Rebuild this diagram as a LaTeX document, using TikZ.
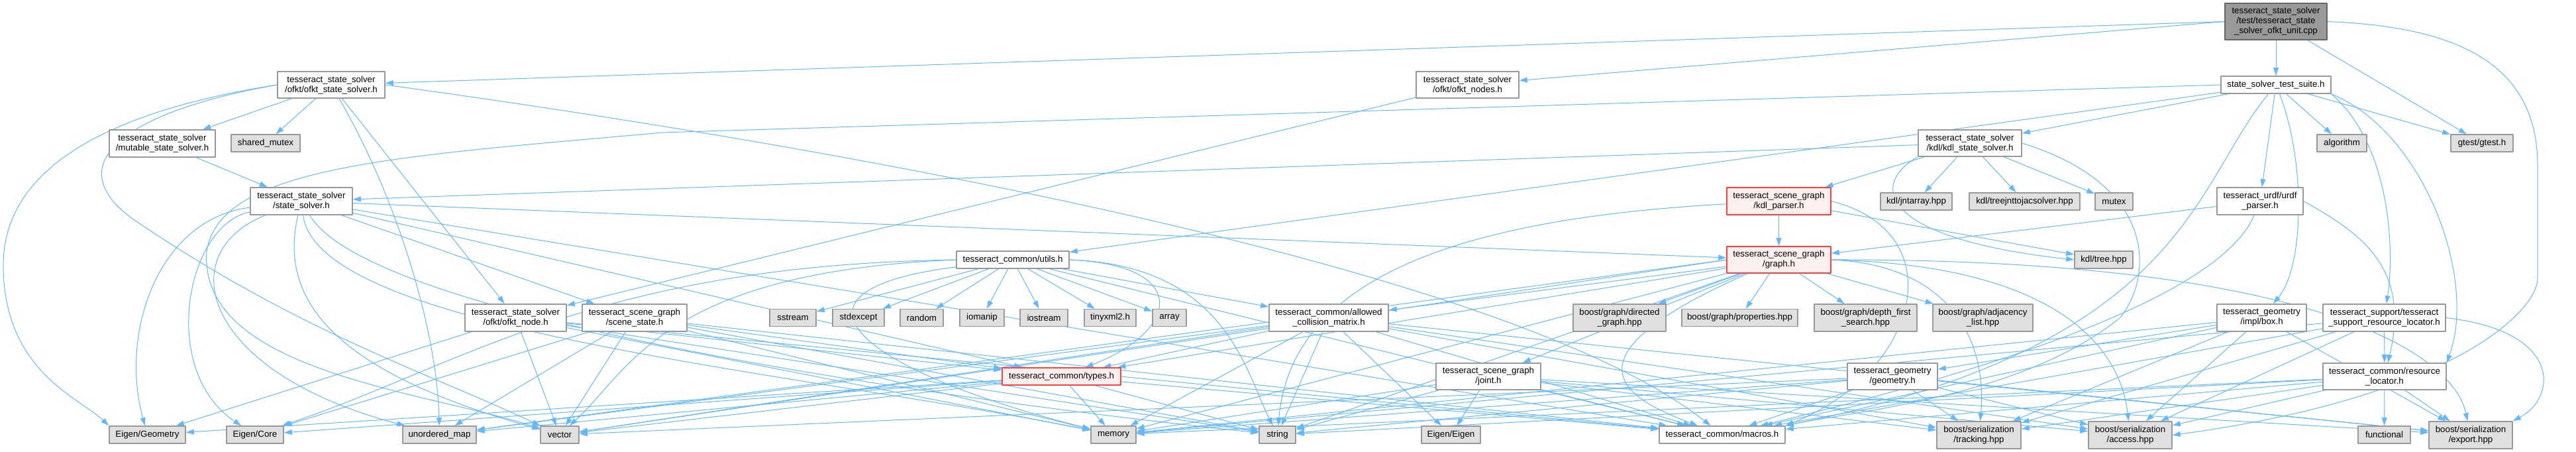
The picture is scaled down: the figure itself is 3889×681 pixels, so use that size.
\documentclass[tikz,border=0pt]{standalone}
\usepackage{fontspec}
\setmainfont{Liberation Sans}
\usetikzlibrary{arrows.meta,backgrounds,positioning}
\definecolor{dxedge}{HTML}{63B8FF}
\definecolor{dxline}{HTML}{999999}
\definecolor{dxsys}{HTML}{E0E0E0}
\definecolor{dxrootfill}{HTML}{999999}
\definecolor{dxrootline}{HTML}{666666}
\definecolor{dxredfill}{HTML}{FFF0F0}
\definecolor{dxredline}{HTML}{FF4040}
\tikzset{
  every picture/.append style={line cap=round,line join=round},
  dx file/.style={draw=dxline,fill=white,line width=1.6pt,align=center,inner sep=0pt,
    font=\fontsize{13.3}{15}\selectfont},
  dx sys/.style={dx file,fill=dxsys},
  dx root/.style={dx file,fill=dxrootfill,draw=dxrootline},
  dx trunc/.style={dx file,fill=dxredfill,draw=dxredline},
  dx edge/.style={dxedge,line width=1pt,-{Stealth[length=12pt,width=8pt,inset=0pt]}}
}
\begin{document}
\begin{tikzpicture}[x=1pt,y=-1pt]
\useasboundingbox (0,0) rectangle (3889,681);
% top ranks
\node[dx root,minimum width=154,minimum height=55] (root) at (3436,32.5) {tesseract\_state\_solver\\/test/tesseract\_state\\\_solver\_ofkt\_unit.cpp};
\node[dx file,minimum width=166,minimum height=26] (suite) at (3436,128) {state\_solver\_test\_suite.h};
\node[dx file,minimum width=162,minimum height=40] (ofktss) at (500,128) {tesseract\_state\_solver\\/ofkt/ofkt\_state\_solver.h};
\node[dx file,minimum width=155,minimum height=40] (ofktnodes) at (2215.5,128) {tesseract\_state\_solver\\/ofkt/ofkt\_nodes.h};
\node[dx file,minimum width=160,minimum height=41] (mutable) at (245,216.5) {tesseract\_state\_solver\\/mutable\_state\_solver.h};
\node[dx sys,minimum width=104,minimum height=26] (sharedmutex) at (401,216) {shared\_mutex};
\node[dx file,minimum width=156,minimum height=40] (kdlss) at (2974,216) {tesseract\_state\_solver\\/kdl/kdl\_state\_solver.h};
\node[dx sys,minimum width=75,minimum height=26] (algorithm) at (3535.5,216) {algorithm};
\node[dx sys,minimum width=94,minimum height=26] (gtest) at (3747,216) {gtest/gtest.h};
\node[dx file,minimum width=154,minimum height=41] (statesolver) at (455,303.5) {tesseract\_state\_solver\\/state\_solver.h};
\node[dx trunc,minimum width=157,minimum height=41] (kdlparser) at (2685.5,303.5) {tesseract\_scene\_graph\\/kdl\_parser.h};
\node[dx sys,minimum width=108,minimum height=26] (jntarray) at (2893,304) {kdl/jntarray.hpp};
\node[dx sys,minimum width=167,minimum height=26] (treejnt) at (3056.5,304) {kdl/treejnttojacsolver.hpp};
\node[dx sys,minimum width=57,minimum height=26] (mutex) at (3191.5,304) {mutex};
\node[dx file,minimum width=130,minimum height=41] (urdf) at (3412,303.5) {tesseract\_urdf/urdf\\\_parser.h};
\node[dx sys,minimum width=88,minimum height=26] (tree) at (3176,392) {kdl/tree.hpp};
\node[dx file,minimum width=170,minimum height=26] (utils) at (1529,392) {tesseract\_common/utils.h};
\node[dx trunc,minimum width=157,minimum height=40] (graph) at (2685.5,392) {tesseract\_scene\_graph\\/graph.h};
% middle ranks
\node[dx file,minimum width=153,minimum height=41] (ofktnode) at (778.5,479.5) {tesseract\_state\_solver\\/ofkt/ofkt\_node.h};
\node[dx file,minimum width=158,minimum height=41] (scenestate) at (958,479.5) {tesseract\_scene\_graph\\/scene\_state.h};
\node[dx sys,minimum width=70,minimum height=26] (sstream) at (1197,479.5) {sstream};
\node[dx sys,minimum width=78,minimum height=26] (stdexcept) at (1296,479.5) {stdexcept};
\node[dx sys,minimum width=65,minimum height=26] (random) at (1391.5,479.5) {random};
\node[dx sys,minimum width=67,minimum height=26] (iomanip) at (1482.5,479.5) {iomanip};
\node[dx sys,minimum width=72,minimum height=26] (iostream) at (1576,479.5) {iostream};
\node[dx sys,minimum width=78,minimum height=26] (tinyxml) at (1676,479.5) {tinyxml2.h};
\node[dx sys,minimum width=51,minimum height=26] (array) at (1765.5,479.5) {array};
\node[dx file,minimum width=180,minimum height=41] (acm) at (2006,479.5) {tesseract\_common/allowed\\\_collision\_matrix.h};
\node[dx sys,minimum width=140,minimum height=41] (directed) at (2445,479.5) {boost/graph/directed\\\_graph.hpp};
\node[dx sys,minimum width=175,minimum height=26] (properties) at (2626.5,479.5) {boost/graph/properties.hpp};
\node[dx sys,minimum width=155,minimum height=41] (dfs) at (2816.5,479.5) {boost/graph/depth\_first\\\_search.hpp};
\node[dx sys,minimum width=151,minimum height=41] (adjacency) at (2993.5,479.5) {boost/graph/adjacency\\\_list.hpp};
\node[dx file,minimum width=135,minimum height=41] (box) at (3414.5,479.5) {tesseract\_geometry\\/impl/box.h};
\node[dx file,minimum width=185,minimum height=41] (tsupport) at (3599.5,479.5) {tesseract\_support/tesseract\\\_support\_resource\_locator.h};
\node[dx trunc,minimum width=179,minimum height=26] (types) at (1602.5,568) {tesseract\_common/types.h};
\node[dx file,minimum width=158,minimum height=40] (joint) at (2247,568) {tesseract\_scene\_graph\\/joint.h};
\node[dx file,minimum width=136,minimum height=40] (geometry) at (2857,568) {tesseract\_geometry\\/geometry.h};
\node[dx file,minimum width=186,minimum height=40] (resloc) at (3600,568) {tesseract\_common/resource\\\_locator.h};
% bottom rank
\node[dx sys,minimum width=115,minimum height=26] (eigengeom) at (222.5,656) {Eigen/Geometry};
\node[dx sys,minimum width=86,minimum height=26] (eigencore) at (385,656) {Eigen/Core};
\node[dx sys,minimum width=111,minimum height=26] (unorderedmap) at (663.5,656) {unordered\_map};
\node[dx sys,minimum width=58,minimum height=26] (vector) at (845,656) {vector};
\node[dx sys,minimum width=68,minimum height=26] (memory) at (1681,656) {memory};
\node[dx sys,minimum width=55,minimum height=26] (string) at (1928.5,656) {string};
\node[dx sys,minimum width=89,minimum height=26] (eigen) at (2190.5,656) {Eigen/Eigen};
\node[dx file,minimum width=190,minimum height=26] (macros) at (2600,656) {tesseract\_common/macros.h};
\node[dx sys,minimum width=127,minimum height=41] (tracking) at (2987.5,656.5) {boost/serialization\\/tracking.hpp};
\node[dx sys,minimum width=126,minimum height=41] (access) at (3216,656.5) {boost/serialization\\/access.hpp};
\node[dx sys,minimum width=79,minimum height=26] (functional) at (3599.5,656) {functional};
\node[dx sys,minimum width=126,minimum height=41] (export) at (3730,656.5) {boost/serialization\\/export.hpp};
\begin{scope}[on background layer]
% includes of the test file
\draw[dx edge] (root) -- (suite);
\draw[dx edge] (root.west) -- (ofktss);
\draw[dx edge] (root.west) -- (ofktnodes);
\draw[dx edge] (root) -- (gtest);
\draw[dx edge] (root.east) .. controls (3700,40) and (3831,90) .. (3831,250) -- (3831,420) .. controls (3831,470) and (3700,600) .. (access.east);
% test suite
\draw[dx edge] (suite) -- (kdlss);
\draw[dx edge] (suite) -- (utils);
\draw[dx edge] (suite.west) -- (1000,200) .. controls (600,236) and (330,250) .. (312,380) .. controls (300,560) and (640,590) .. (vector);
\draw[dx edge] (suite) -- (urdf);
\draw[dx edge] (suite) .. controls (3480,240) and (3480,400) .. (box);
\draw[dx edge] (suite) -- (algorithm);
\draw[dx edge] (suite) -- (gtest);
\draw[dx edge] (suite.south east) .. controls (3610,220) and (3615,380) .. (tsupport);
\draw[dx edge] (suite.south east) .. controls (3660,200) and (3740,420) .. (resloc.north east);
\draw[dx edge] (suite) .. controls (3310,280) and (3300,520) .. (macros.north east);
% ofkt state solver
\draw[dx edge] (ofktss) -- (mutable);
\draw[dx edge] (ofktss) -- (sharedmutex);
\draw[dx edge] (ofktss) -- (ofktnode);
\draw[dx edge] (ofktss) .. controls (600,300) and (660,500) .. (unorderedmap);
\draw[dx edge] (ofktss.west) .. controls (150,170) and (5,260) .. (5,400) .. controls (5,560) and (120,600) .. (eigengeom.north west);
\draw[dx edge] (ofktss.west) .. controls (180,170) and (90,250) .. (200,330) .. controls (450,500) and (640,560) .. (vector);
\draw[dx edge] (ofktss.east) .. controls (1400,240) and (2300,420) .. (macros);
\draw[dx edge] (ofktnodes) -- (ofktnode);
\draw[dx edge] (mutable) -- (statesolver);
% kdl state solver
\draw[dx edge] (kdlss) -- (statesolver);
\draw[dx edge] (kdlss) -- (kdlparser);
\draw[dx edge] (kdlss) -- (jntarray);
\draw[dx edge] (kdlss) -- (treejnt);
\draw[dx edge] (kdlss) -- (mutex);
\draw[dx edge] (kdlss.south west) .. controls (2820,280) and (2840,360) .. (tree.west);
\draw[dx edge] (kdlss.east) .. controls (3260,280) and (3250,420) .. (3200,480) .. controls (3050,600) and (2800,620) .. (macros.north east);
% state solver
\draw[dx edge] (statesolver) -- (graph);
\draw[dx edge] (statesolver) -- (scenestate);
\draw[dx edge] (statesolver) -- (types);
\draw[dx edge] (statesolver) .. controls (240,330) and (180,500) .. (eigengeom);
\draw[dx edge] (statesolver) .. controls (280,340) and (240,560) .. (eigencore);
\draw[dx edge] (statesolver) .. controls (260,380) and (300,560) .. (unorderedmap);
\draw[dx edge] (statesolver) .. controls (420,450) and (500,560) .. (vector);
\draw[dx edge] (statesolver) .. controls (480,500) and (1200,560) .. (memory);
\draw[dx edge] (statesolver) .. controls (560,480) and (1400,600) .. (string);
\draw[dx edge] (statesolver) -- (macros);
% kdl parser and urdf parser
\draw[dx edge] (kdlparser) -- (graph);
\draw[dx edge] (kdlparser) -- (tree);
\draw[dx edge] (kdlparser) .. controls (2200,330) and (1950,420) .. (string);
\draw[dx edge] (kdlparser.east) .. controls (2950,350) and (2900,560) .. (macros.north east);
\draw[dx edge] (urdf) -- (graph);
\draw[dx edge] (urdf.east) .. controls (3560,350) and (3640,400) .. (resloc);
\draw[dx edge] (urdf) .. controls (3350,450) and (3000,560) .. (macros);
% utils
\draw[dx edge] (utils) -- (sstream);
\draw[dx edge] (utils) -- (stdexcept);
\draw[dx edge] (utils) -- (random);
\draw[dx edge] (utils) -- (iomanip);
\draw[dx edge] (utils) -- (iostream);
\draw[dx edge] (utils) -- (tinyxml);
\draw[dx edge] (utils) -- (array);
\draw[dx edge] (utils) -- (acm);
\draw[dx edge] (utils.east) .. controls (1800,400) and (1780,500) .. (types);
\draw[dx edge] (utils.west) .. controls (900,400) and (700,550) .. (eigencore);
\draw[dx edge] (utils.west) .. controls (1000,410) and (950,560) .. (vector);
\draw[dx edge] (utils.east) .. controls (1850,400) and (1880,560) .. (string);
\draw[dx edge] (utils) .. controls (1150,440) and (1300,560) .. (memory);
\draw[dx edge] (utils) -- (macros);
% scene graph
\draw[dx edge] (graph) -- (directed);
\draw[dx edge] (graph) -- (properties);
\draw[dx edge] (graph) -- (dfs);
\draw[dx edge] (graph) -- (adjacency);
\draw[dx edge] (graph) -- (acm);
\draw[dx edge] (graph) -- (joint);
\draw[dx edge] (graph) -- (types);
\draw[dx edge] (graph) .. controls (2350,540) and (2450,600) .. (macros);
\draw[dx edge] (graph) -- (string);
\draw[dx edge] (graph) -- (memory);
\draw[dx edge] (graph.west) -- (unorderedmap);
\draw[dx edge] (graph.west) -- (vector);
\draw[dx edge] (graph.east) .. controls (2950,400) and (3000,520) .. (tracking);
\draw[dx edge] (graph.east) .. controls (3100,400) and (3200,520) .. (access);
\draw[dx edge] (graph.east) .. controls (3450,390) and (3700,520) .. (export);
% ofkt node and scene state
\draw[dx edge] (ofktnode) -- (eigengeom);
\draw[dx edge] (ofktnode) -- (vector);
\draw[dx edge] (ofktnode) -- (types);
\draw[dx edge] (ofktnode) -- (memory);
\draw[dx edge] (ofktnode) -- (string);
\draw[dx edge] (ofktnode) -- (macros);
\draw[dx edge] (scenestate) -- (unorderedmap);
\draw[dx edge] (scenestate) -- (vector);
\draw[dx edge] (scenestate) -- (eigencore);
\draw[dx edge] (scenestate) -- (types);
\draw[dx edge] (scenestate) -- (memory);
\draw[dx edge] (scenestate) -- (string);
\draw[dx edge] (scenestate) -- (macros);
% allowed collision matrix
\draw[dx edge] (acm) -- (types);
\draw[dx edge] (acm) -- (string);
\draw[dx edge] (acm) -- (eigen);
\draw[dx edge] (acm) -- (unorderedmap);
\draw[dx edge] (acm) -- (vector);
\draw[dx edge] (acm) -- (memory);
\draw[dx edge] (acm) -- (macros);
\draw[dx edge] (acm) -- (tracking);
\draw[dx edge] (acm) -- (access);
\draw[dx edge] (acm) -- (export);
% types
\draw[dx edge] (types) -- (eigengeom);
\draw[dx edge] (types) -- (eigencore);
\draw[dx edge] (types) -- (unorderedmap);
\draw[dx edge] (types) -- (vector);
\draw[dx edge] (types) -- (memory);
\draw[dx edge] (types) -- (string);
\draw[dx edge] (types) -- (macros);
% joint and geometry
\draw[dx edge] (joint) -- (eigen);
\draw[dx edge] (joint) -- (string);
\draw[dx edge] (joint) -- (memory);
\draw[dx edge] (joint) -- (macros);
\draw[dx edge] (joint) -- (tracking);
\draw[dx edge] (joint) -- (access);
\draw[dx edge] (joint) -- (export);
\draw[dx edge] (geometry) -- (memory);
\draw[dx edge] (geometry) -- (string);
\draw[dx edge] (geometry) -- (vector);
\draw[dx edge] (geometry) -- (macros);
\draw[dx edge] (geometry) -- (tracking);
\draw[dx edge] (geometry) -- (access);
\draw[dx edge] (geometry) -- (export);
\draw[dx edge] (box) -- (geometry);
\draw[dx edge] (box) -- (memory);
\draw[dx edge] (box) -- (macros);
\draw[dx edge] (box) -- (tracking);
\draw[dx edge] (box) -- (access);
\draw[dx edge] (box) -- (export);
% resource locators
\draw[dx edge] (tsupport) -- (resloc);
\draw[dx edge] (tsupport) -- (memory);
\draw[dx edge] (tsupport) -- (macros);
\draw[dx edge] (tsupport) -- (tracking);
\draw[dx edge] (tsupport) -- (access);
\draw[dx edge] (tsupport.east) .. controls (3870,500) and (3860,600) .. (export.north east);
\draw[dx edge] (resloc) -- (functional);
\draw[dx edge] (resloc) -- (memory);
\draw[dx edge] (resloc) -- (string);
\draw[dx edge] (resloc) -- (macros);
\draw[dx edge] (resloc) -- (tracking);
\draw[dx edge] (resloc) -- (access);
\draw[dx edge] (resloc) -- (export);
\end{scope}
\end{tikzpicture}
\end{document}
